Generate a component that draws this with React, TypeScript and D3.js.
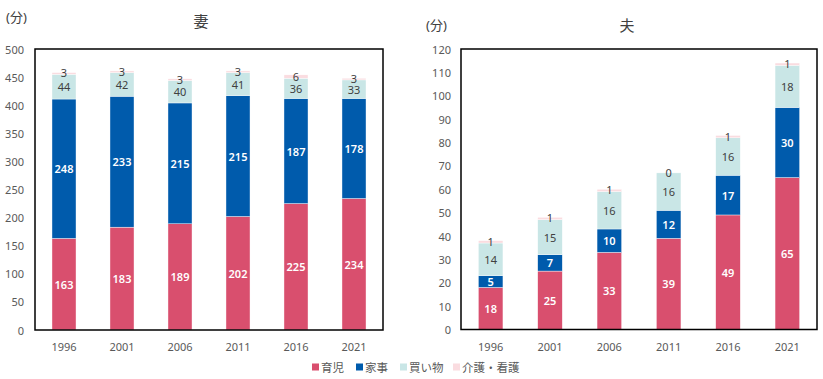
import React from "react";
import * as d3 from "d3";

const years = ["1996", "2001", "2006", "2011", "2016", "2021"];
const seriesNames = ["育児", "家事", "買い物", "介護・看護"];
const seriesColors = ["#D94F6E", "#005BAC", "#C9E6E6", "#FADCE0"];
const labelColors = ["#ffffff", "#ffffff", "#404040", "#404040"];

const wifeChildcare = [163, 183, 189, 202, 225, 234];
const wifeHousework = [248, 233, 215, 215, 187, 178];
const wifeShopping = [44, 42, 40, 41, 36, 33];
const wifeCare = [3, 3, 3, 3, 6, 3];

const husbandChildcare = [18, 25, 33, 39, 49, 65];
const husbandHousework = [5, 7, 10, 12, 17, 30];
const husbandShopping = [14, 15, 16, 16, 16, 18];
const husbandCare = [1, 1, 1, 0, 1, 1];

const wifeTicks = [0, 50, 100, 150, 200, 250, 300, 350, 400, 450, 500];
const husbandTicks = [0, 10, 20, 30, 40, 50, 60, 70, 80, 90, 100, 110, 120];

const FONT = "'Noto Sans', 'Noto Sans CJK JP', sans-serif";
const GREY = "#595959";

type PanelProps = {
  x0: number;
  x1: number;
  top: number;
  bottom: number;
  max: number;
  ticks: number[];
  series: number[][];
  title: string;
  titleX: number;
  titleY: number;
  unitX: number;
  unitY: number;
  tickRight: number;
};

function Panel(p: PanelProps) {
  const x = d3.scaleBand<string>().domain(years).range([p.x0, p.x1]).paddingInner(0.586).paddingOuter(0.293);
  const y = d3.scaleLinear().domain([0, p.max]).range([p.bottom, p.top]);
  const rows = years.map((yr, i) => {
    const o: any = { year: yr };
    seriesNames.forEach((s, k) => (o[s] = p.series[k][i]));
    return o;
  });
  const stacked = d3.stack<any>().keys(seriesNames)(rows);
  return (
    <g>
      <text x={p.unitX} y={p.unitY} fontSize={13} fill="#404040" fontFamily={FONT} dominantBaseline="central">
        (分)
      </text>
      <text x={p.titleX} y={p.titleY} fontSize={15} fill="#404040" fontFamily={FONT} textAnchor="middle" dominantBaseline="central">
        {p.title}
      </text>
      {p.ticks.map((t) => (
        <text key={t} x={p.tickRight} y={y(t)} fontSize={11} fill={GREY} fontFamily={FONT} textAnchor="end" dominantBaseline="central">
          {t}
        </text>
      ))}
      {stacked.map((layer, k) => (
        <g key={k}>
          {layer.map((d, i) => (
            <rect
              key={i}
              x={x(years[i])}
              width={x.bandwidth()}
              y={y(d[1])}
              height={Math.max(0, y(d[0]) - y(d[1]))}
              fill={seriesColors[k]}
              stroke="#ffffff"
              strokeWidth={0.4}
            />
          ))}
        </g>
      ))}
      {stacked.map((layer, k) => (
        <g key={"l" + k}>
          {layer.map((d, i) => (
            <text
              key={i}
              x={(x(years[i]) as number) + x.bandwidth() / 2}
              y={y((d[0] + d[1]) / 2) - (k === 3 ? 0.5 : 0)}
              fontSize={11}
              fontWeight={k < 2 ? 600 : 400}
              fill={labelColors[k]}
              fontFamily={FONT}
              textAnchor="middle"
              dominantBaseline="central"
            >
              {p.series[k][i]}
            </text>
          ))}
        </g>
      ))}
      <rect x={p.x0} y={p.top} width={p.x1 - p.x0} height={p.bottom - p.top} fill="none" stroke="#000" strokeWidth={1.5} />
      {years.map((yr) => (
        <text key={yr} x={(x(yr) as number) + x.bandwidth() / 2} y={346} fontSize={11} fill={GREY} fontFamily={FONT} textAnchor="middle" dominantBaseline="central">
          {yr}
        </text>
      ))}
    </g>
  );
}

export default function App() {
  const legendX = [312, 356, 400, 453];
  return (
    <svg width={823} height={379} style={{ position: "absolute", left: 0, top: 0, background: "#fff" }}>
      <Panel
        x0={35}
        x1={383}
        top={49}
        bottom={330}
        max={500}
        ticks={wifeTicks}
        series={[wifeChildcare, wifeHousework, wifeShopping, wifeCare]}
        title="妻"
        titleX={201}
        titleY={21}
        unitX={6}
        unitY={17}
        tickRight={24}
      />
      <Panel
        x0={461}
        x1={817}
        top={49}
        bottom={329.5}
        max={120}
        ticks={husbandTicks}
        series={[husbandChildcare, husbandHousework, husbandShopping, husbandCare]}
        title="夫"
        titleX={627}
        titleY={25}
        unitX={426}
        unitY={25}
        tickRight={451}
      />
      {seriesNames.map((s, k) => (
        <g key={s}>
          <rect x={legendX[k]} y={363.5} width={7} height={7} fill={seriesColors[k]} />
          <text x={legendX[k] + 9} y={367} fontSize={11.5} fill={GREY} fontFamily={FONT} dominantBaseline="central">
            {s}
          </text>
        </g>
      ))}
    </svg>
  );
}
